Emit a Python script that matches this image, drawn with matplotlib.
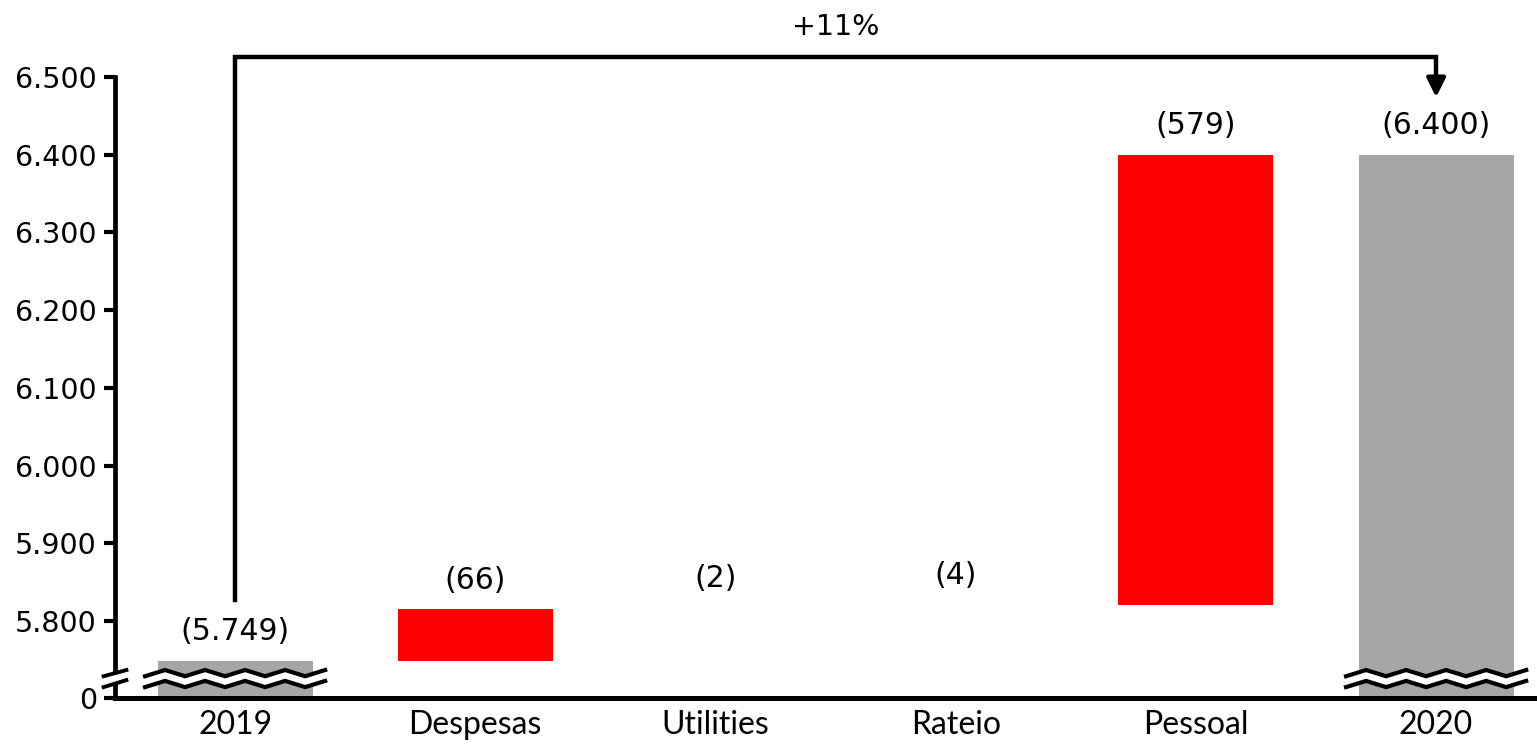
import numpy as np
import matplotlib
matplotlib.use("Agg")
import matplotlib.pyplot as plt
from matplotlib.transforms import blended_transform_factory

# data (values in thousands, pt-BR formatting)
categories = ["2019", "Despesas", "Utilities", "Rateio", "Pessoal", "2020"]
start_total = 5749
changes = [66, 2, 4, 579]
end_total = 6400
labels = ["(5.749)", "(66)", "(2)", "(4)", "(579)", "(6.400)"]
delta_label = "+11%"

y_ticks = [5800, 5900, 6000, 6100, 6200, 6300, 6400, 6500]
y_tick_labels = ["5.800", "5.900", "6.000", "6.100", "6.200", "6.300", "6.400", "6.500"]

Y_FLOOR = 5701          # where the broken axis shows "0"
MIN_VISIBLE = 10        # tiny steps don't show up as bars in the original
GRAY = "#a6a6a6"
RED = "#ff0000"

fig = plt.figure(figsize=(15.37, 7.44), dpi=100)
ax = fig.add_axes([115 / 1537, 46 / 744, 1 - 115 / 1537, (698 - 77) / 744])

# waterfall geometry
bottoms, tops, colors = [Y_FLOOR], [start_total], [GRAY]
level = start_total
for c in changes:
    bottoms.append(level)
    tops.append(level + c)
    colors.append(RED if c >= MIN_VISIBLE else "none")
    level += c
bottoms.append(Y_FLOOR)
tops.append(end_total)
colors.append(GRAY)

x = np.arange(len(categories))
heights = np.array(tops) - np.array(bottoms)
ax.bar(x, heights, bottom=bottoms, width=0.645, color=colors, lw=0, zorder=2)

for xi, top, lab in zip(x, tops, labels):
    ax.annotate(lab, (xi, top), xytext=(0, 21), textcoords="offset points",
                ha="center", va="center", fontsize=21.5, family="DejaVu Sans")

# zigzag break marks on the total bars
def zigzag(xc, yc, half=0.375, n=9, amp=4):
    xs = np.linspace(xc - half, xc + half, n + 1)
    ys = yc + np.where(np.arange(n + 1) % 2 == 0, -amp, amp)
    return xs, ys

for xi in (x[0], x[-1]):
    xs, ys = zigzag(xi, 5726)
    ax.plot(xs, ys, color="white", lw=6, zorder=3, solid_joinstyle="miter")
    for yc in (5733, 5719):
        xs, ys = zigzag(xi, yc)
        ax.plot(xs, ys, color="black", lw=3, zorder=4, solid_joinstyle="miter")

# axis break on the y spine
bt = blended_transform_factory(ax.transAxes, ax.transData)
ax.fill([-0.008, 0.008, 0.008, -0.008], [5729, 5737, 5724, 5715],
        color="white", transform=bt, clip_on=False, zorder=5)
for y0, y1 in ((5729, 5737), (5715, 5724)):
    ax.plot([-0.008, 0.008], [y0, y1], color="black", lw=2.8,
            transform=bt, clip_on=False, zorder=6)

# bracket arrow 2019 -> 2020
ax.plot([0, 0, 5, 5], [5827, 6526, 6526, 6490], color="black", lw=3.2,
        clip_on=False, zorder=3, solid_joinstyle="miter")
ax.annotate("", xy=(5, 6474), xytext=(5, 6500),
            arrowprops=dict(arrowstyle="-|>", lw=3.2, color="black",
                            mutation_scale=28, shrinkA=0, shrinkB=0),
            annotation_clip=False)
ax.text(2.5, 6564, delta_label, ha="center", va="center", fontsize=20.5,
        family="DejaVu Sans")

# axes styling
ax.set_xlim(-0.5, 5.42)
ax.set_ylim(Y_FLOOR, 6500)
ax.set_xticks(x)
ax.set_xticklabels(categories, family="Lato", fontsize=23)
ax.set_yticks([Y_FLOOR] + y_ticks)
ax.set_yticklabels(["0"] + y_tick_labels, family="DejaVu Sans", fontsize=20.5)
ax.tick_params(axis="x", length=0, pad=9)
ax.tick_params(axis="y", length=8, width=3, direction="out", pad=5)
for side in ("top", "right"):
    ax.spines[side].set_visible(False)
ax.spines["left"].set_linewidth(3.4)
ax.spines["bottom"].set_linewidth(3.6)
ax.patch.set_alpha(0)

fig.savefig("out.png", dpi=100)
